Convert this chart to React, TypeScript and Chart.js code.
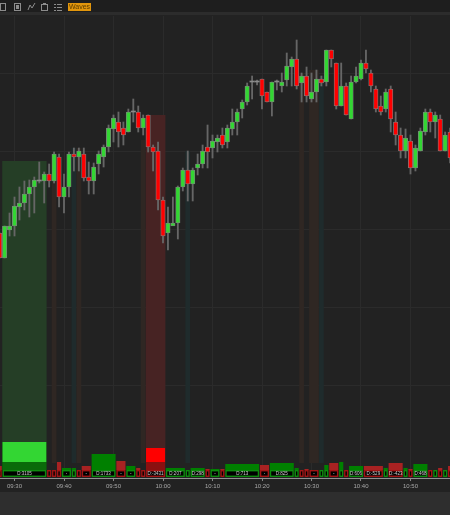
import React, { useEffect, useRef } from "react";
import { Chart, registerables } from "chart.js";

Chart.register(...registerables);

const firstCandle = -3;
const opens = [230,205,233,237,256,260,269,276,282,282,289,282,306,266,276,309,306,309,286,282,299,306,316,334,341,335,331,351,351,335,348,316,312,263,230,237,240,276,293,279,295,299,316,315,321,328,321,334,341,354,361,381,381,384,371,361,381,377,383,396,404,380,387,364,371,384,381,413,400,357,377,344,381,384,400,390,374,357,354,374,341,328,312,322,295,312,331,351,341,344,312,331];
const closes = [205,237,237,257,260,269,276,283,283,289,282,309,266,276,309,306,312,285,282,296,309,316,335,345,331,328,351,352,335,345,316,311,263,227,240,240,276,293,279,293,299,312,311,322,325,318,335,341,351,361,377,382,382,367,361,381,382,381,397,404,377,387,367,371,384,380,413,404,357,377,348,381,387,400,394,377,354,351,371,344,328,312,325,295,315,332,351,341,348,312,328,305];
const highs = [230,237,250,266,276,282,283,286,301,291,299,311,309,289,311,315,315,315,301,300,312,318,338,348,351,341,354,364,357,348,348,318,321,266,256,266,277,295,312,295,309,318,338,328,328,335,338,354,354,363,380,387,383,384,371,381,383,390,410,406,423,390,396,390,393,387,413,413,400,400,380,387,396,403,413,393,377,367,374,377,351,335,334,328,318,335,354,354,351,348,331,335];
const lows = [205,205,227,227,243,253,246,250,280,260,276,280,256,250,266,292,292,282,269,269,289,296,311,321,316,318,331,341,331,328,311,292,253,220,213,240,224,272,262,262,288,295,295,305,311,315,315,328,328,345,358,364,378,354,361,347,373,371,377,377,374,361,361,361,361,377,377,396,354,357,348,344,380,383,390,371,351,348,351,331,318,305,305,289,292,312,328,331,325,312,312,300];

const zoneFirst = [-2, 8, 12, 13, 26, 27, 35, 58, 60, 62];
const zoneLast = [6, 8, 12, 13, 26, 30, 35, 58, 61, 62];
const zoneTop = [302, 308, 315, 315, 323, 348, 312, 390, 393, 387];
const zoneBottom = [21, 0, 0, 0, 0, 15, 0, 0, 0, 0];
const zoneKind = ["green", "orange", "teal", "orange", "orange", "red", "teal", "orange", "orange", "teal"];

const waveFirst = [-3,-2,7,8,9,10,12,13,14,16,21,23,25,26,27,31,35,36,39,40,42,43,50,52,57,58,59,60,62,63,64,66,67,68,71,75,76,79,80,81,84,85,86,87,88];
const waveLast = [-3,6,7,8,9,11,12,13,15,20,22,24,25,26,30,34,35,38,39,41,42,49,51,56,57,58,59,61,62,63,65,66,67,70,74,75,78,79,80,83,84,85,86,87,88];
const waveSign = [-1,1,-1,-1,-1,1,1,-1,-1,1,-1,1,-1,-1,-1,1,1,1,-1,1,-1,1,-1,1,1,-1,-1,-1,1,1,-1,1,-1,1,-1,1,-1,1,-1,1,-1,1,-1,1,-1];
const waveTop = [-3,21,-7,-7,1,-5,-5,-7,-3,9,2,-3,-5,-7,15,-5,-7,-5,-6,-6,-6,-1,-2,0,-5,-7,-6,-7,-7,-2,0,1,-7,-3,-3,-5,0,-5,-6,-1,-7,-7,-5,-7,-3];
const waveLabel = ["","D:3105","","","","-","","","-","D:1733","-","-","","","D:-3431","D:207","","D:298","","-","","D:713","-","D:825","","","","-","","","-","","","D:606","D:-529","","D:-423","","","D:468","","","","",""];

const priceTicks = [78, 156, 234, 312, 390];
const timeTicks = [0, 10, 20, 30, 40, 50, 60, 70, 80];

const zoneColors: Record<string, string> = {
  green: "#253e26",
  red: "#472323",
  orange: "#2f2723",
  teal: "#1f2b2c",
};
const upColor = "#33d633";
const downColor = "#ff0000";
const grayColor = "#8a8a8a";

const fmtTime = (m: number) => {
  const t = 570 + m;
  const h = Math.floor(t / 60);
  return `${String(h).padStart(2, "0")}:${String(t % 60).padStart(2, "0")}`;
};

const drawIcons = (c: CanvasRenderingContext2D) => {
  c.strokeStyle = "#8c8c8c";
  c.lineWidth = 1;
  c.strokeRect(0.5, 3.5, 5, 7);
  c.strokeRect(14.5, 3.5, 6, 7);
  c.fillStyle = "#8c8c8c";
  c.fillRect(16, 5, 3, 4);
  c.beginPath();
  c.moveTo(28, 10);
  c.lineTo(30, 5);
  c.lineTo(32, 8);
  c.lineTo(35, 3);
  c.stroke();
  c.strokeRect(41.5, 4.5, 6, 6);
  c.fillRect(43, 3, 3, 2);
  [4, 7, 10].forEach((y) => {
    c.fillRect(54, y, 2, 1);
    c.fillRect(57, y, 5, 1);
  });
};

const scenePlugin = {
  id: "scene",
  beforeDraw(chart: any) {
    const c = chart.ctx;
    c.save();
    c.fillStyle = "#222222";
    c.fillRect(0, 0, 450, 515);
    c.fillStyle = "#1e1e1e";
    c.fillRect(0, 0, 450, 12);
    c.fillStyle = "#2c2c2c";
    c.fillRect(0, 12, 450, 3);
    c.fillStyle = "#2e2e2e";
    c.fillRect(0, 492, 450, 23);
    c.restore();
  },
  beforeDatasetsDraw(chart: any) {
    const c = chart.ctx;
    const { x, y } = chart.scales;
    c.save();
    zoneFirst.forEach((first, i) => {
      const l = x.getPixelForValue(first - 0.48);
      const r = x.getPixelForValue(zoneLast[i] + 0.48);
      const t = y.getPixelForValue(zoneTop[i]);
      const b = y.getPixelForValue(zoneBottom[i]);
      c.fillStyle = zoneColors[zoneKind[i]];
      c.fillRect(l, t, r - l, b - t);
    });
    c.restore();
  },
  afterDatasetsDraw(chart: any) {
    const c = chart.ctx;
    const { x, y } = chart.scales;
    const boxTop = y.getPixelForValue(-7);
    const boxBottom = y.getPixelForValue(-14);
    c.save();
    waveFirst.forEach((first, i) => {
      const l = x.getPixelForValue(first - 0.42);
      const r = x.getPixelForValue(waveLast[i] + 0.42);
      const up = waveSign[i] > 0;
      const t = y.getPixelForValue(waveTop[i]);
      const strong = waveTop[i] > 10;
      if (t < boxTop) {
        c.fillStyle = up ? "#008000" : "#a82222";
        c.fillRect(l, t, r - l, boxTop - t);
        if (strong) {
          const b = y.getPixelForValue(1);
          c.fillStyle = up ? upColor : downColor;
          c.fillRect(l, t, r - l, b - t);
          c.fillStyle = up ? "#0a6a0a" : "#8a1010";
          c.fillRect(l, b, r - l, boxTop - b);
        }
      }
      c.fillStyle = "#000000";
      c.fillRect(l, boxTop, r - l, boxBottom - boxTop);
      c.strokeStyle = up ? "#0e8a0e" : "#a01515";
      c.lineWidth = 1.4;
      c.strokeRect(l + 0.7, boxTop + 0.7, r - l - 1.4, boxBottom - boxTop - 1.4);
      if (waveLabel[i]) {
        c.fillStyle = "#cfcfcf";
        c.font = "4.5px 'Liberation Sans'";
        c.textAlign = "center";
        c.textBaseline = "middle";
        c.fillText(waveLabel[i], (l + r) / 2, (boxTop + boxBottom) / 2 + 0.5);
      }
    });
    c.restore();
  },
  afterDraw(chart: any) {
    const c = chart.ctx;
    c.save();
    drawIcons(c);
    c.fillStyle = "#e2960c";
    c.fillRect(68, 3, 23, 8);
    c.fillStyle = "#5a3c00";
    c.font = "7px 'Liberation Sans'";
    c.textAlign = "center";
    c.textBaseline = "middle";
    c.fillText("Waves", 79.5, 7.3);
    c.restore();
  },
};

export default function App() {
  const ref = useRef<HTMLCanvasElement>(null);
  useEffect(() => {
    if (!ref.current) return;
    const xs = opens.map((_, i) => firstCandle + i);
    const isDoji = (i: number) => Math.abs(opens[i] - closes[i]) <= 1;
    const chart = new Chart(ref.current, {
      type: "bar",
      data: {
        datasets: [
          {
            label: "wicks",
            data: xs.map((x, i) => ({ x, y: [lows[i], highs[i]] })),
            backgroundColor: "#666666",
            barThickness: 1.2,
            grouped: false,
            order: 2,
          },
          {
            label: "bodies",
            data: xs.map((x, i) => ({ x, y: [opens[i], closes[i]] })),
            backgroundColor: xs.map((_, i) =>
              isDoji(i) ? grayColor : closes[i] > opens[i] ? upColor : downColor
            ),
            borderColor: "#7e7e7e",
            borderWidth: xs.map((_, i) => (isDoji(i) ? 0 : 0.8)),
            borderSkipped: false,
            barThickness: 4.4,
            grouped: false,
            order: 1,
          },
        ],
      } as any,
      options: {
        animation: false,
        responsive: false,
        layout: { padding: { top: 16, left: 0, right: 0, bottom: 0 } },
        plugins: { legend: { display: false }, tooltip: { enabled: false } },
        scales: {
          x: {
            type: "linear",
            offset: false,
            min: -2.93,
            max: 87.98,
            afterBuildTicks: (s: any) => {
              s.ticks = timeTicks.map((value) => ({ value }));
            },
            afterFit: (s: any) => {
              s.height = 37;
            },
            grid: { offset: false, color: "#2b2b2b", tickColor: "#8a8a8a", tickLength: 3 },
            border: { color: "#8f8f8f", width: 1 },
            ticks: {
              autoSkip: false,
              maxRotation: 0,
              padding: 2,
              color: "#a8a8a8",
              font: { family: "'Liberation Sans'", size: 6 },
              callback: (v: any) => fmtTime(Number(v)),
            },
          },
          y: {
            type: "linear",
            min: -15,
            max: 447,
            afterBuildTicks: (s: any) => {
              s.ticks = priceTicks.map((value) => ({ value }));
            },
            afterFit: (s: any) => {
              s.width = 0;
            },
            grid: { color: "#2b2b2b", drawTicks: false },
            border: { display: false },
            ticks: { display: false },
          },
        },
      } as any,
      plugins: [scenePlugin],
    });
    return () => chart.destroy();
  }, []);
  return (
    <canvas
      ref={ref}
      width={450}
      height={515}
      style={{ position: "fixed", left: 0, top: 0, display: "block" }}
    />
  );
}
